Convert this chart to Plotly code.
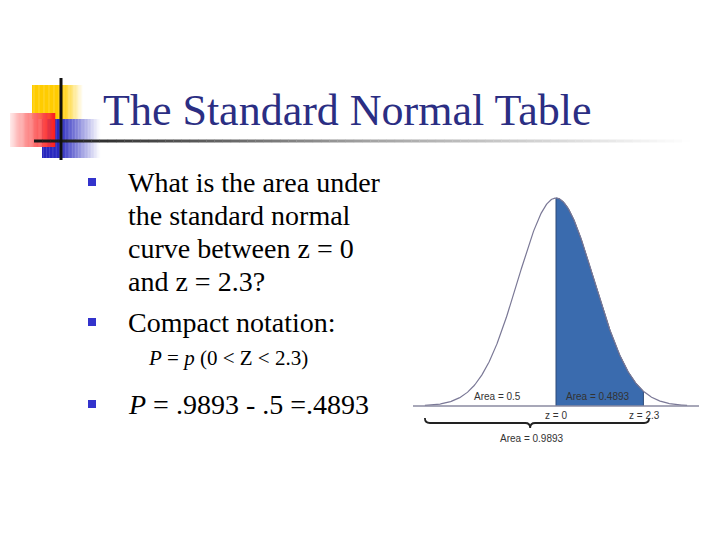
import numpy as np
import plotly.graph_objects as go

# ---------------- data ----------------
title_text = "The Standard Normal Table"
bullet_lines = [
    ["What is the area under", "the standard normal", "curve between z = 0", "and z = 2.3?"],
    ["Compact notation:"],
]
formula_text = "<i>P</i> = <i>p</i> (0 &lt; Z &lt; 2.3)"
answer_text = "<i>P</i> = .9893 - .5 =.4893"

z_low, z_high = 0.0, 2.3
area_left_label = "Area = 0.5"
area_shaded_label = "Area = 0.4893"
area_total_label = "Area = 0.9893"
z_labels = ["z = 0", "z = 2.3"]
curve_extent = 3.45

# ---------------- geometry helpers ----------------
W, H = 720, 540
Z0_PX, SD_PX, BASE_PX = 556, 38.0, 406
PEAK = 1 / np.sqrt(2 * np.pi)
K = (BASE_PX - 198) / PEAK  # px per pdf unit

def px(x):
    return x / W

def py(y):
    return 1 - y / H

def dy(pix):
    return pix / K

shapes = []

def hgrad(x0, x1, y0, y1, colors, n=40):
    for i in range(n):
        a = x0 + (x1 - x0) * i / n
        b = x0 + (x1 - x0) * (i + 1) / n + 0.3
        r, g, bl = colors((i + 0.5) / n)
        shapes.append(dict(type="rect", xref="paper", yref="paper",
                           x0=px(a), x1=px(b), y0=py(y1), y1=py(y0),
                           line=dict(width=0), fillcolor=f"rgb({r:.0f},{g:.0f},{bl:.0f})",
                           layer="below"))

def mix(c1, c2, t):
    return tuple(c1[k] + (c2[k] - c1[k]) * t for k in range(3))

WHITE = (255, 255, 255)
YEL = (255, 204, 0)
hgrad(32, 82, 85, 119, lambda t: YEL if t < 0.6 else mix(YEL, WHITE, (t - 0.6) / 0.4 * 0.95))
BLU = (40, 40, 190)
hgrad(42, 100, 119, 158, lambda t: BLU if t < 0.3 else mix(BLU, WHITE, min(1, (t - 0.3) / 0.7)))
hgrad(10, 55, 113, 147, lambda t: mix((255, 238, 238), (250, 30, 30), t ** 0.8))
hgrad(34, 690, 139.5, 142.5,
      lambda t: mix((20, 20, 20), (160, 160, 160), t / 0.5) if t < 0.5 else mix((160, 160, 160), WHITE, (t - 0.5) / 0.5),
      n=80)
shapes.append(dict(type="line", xref="paper", yref="paper", x0=px(61), x1=px(61),
                   y0=py(78), y1=py(160), line=dict(color="#101010", width=3)))

annotations = []
annotations.append(dict(text=title_text, x=px(101), y=py(111), xref="paper", yref="paper",
                        xanchor="left", yanchor="middle", showarrow=False,
                        font=dict(family="Liberation Serif", size=44, color="#2B2E83")))

body_font = dict(family="Liberation Serif", size=28, color="#000000")
line_gap = 33
bullet_y = [182, 322]
for lines, y0 in zip(bullet_lines, bullet_y):
    shapes.append(dict(type="rect", xref="paper", yref="paper", x0=px(88), x1=px(96),
                       y0=py(y0 + 4), y1=py(y0 - 4), fillcolor="#3333CC", line=dict(width=0)))
    for i, ln in enumerate(lines):
        annotations.append(dict(text=ln, x=px(126), y=py(y0 + i * line_gap), xref="paper", yref="paper",
                                xanchor="left", yanchor="middle", showarrow=False, font=body_font))

annotations.append(dict(text=formula_text, x=px(146), y=py(358), xref="paper", yref="paper",
                        xanchor="left", yanchor="middle", showarrow=False,
                        font=dict(family="Liberation Serif", size=21, color="#000000")))
shapes.append(dict(type="rect", xref="paper", yref="paper", x0=px(88), x1=px(96),
                   y0=py(408), y1=py(400), fillcolor="#3333CC", line=dict(width=0)))
annotations.append(dict(text=answer_text, x=px(126), y=py(404), xref="paper", yref="paper",
                        xanchor="left", yanchor="middle", showarrow=False, font=body_font))

# ---------------- chart ----------------
fig = go.Figure()
zs = np.linspace(-curve_extent, curve_extent, 400)
pdf = np.exp(-zs ** 2 / 2) / np.sqrt(2 * np.pi)
zf = np.linspace(z_low, z_high, 200)
pf = np.exp(-zf ** 2 / 2) / np.sqrt(2 * np.pi)

fig.add_trace(go.Scatter(x=np.concatenate([[z_low], zf, [z_high]]),
                         y=np.concatenate([[0], pf, [0]]),
                         fill="toself", fillcolor="#3A6BAE", mode="lines",
                         line=dict(color="#2C4A78", width=1), hoverinfo="skip"))
fig.add_trace(go.Scatter(x=zs, y=pdf, mode="lines", line=dict(color="#7A7896", width=1.2),
                         hoverinfo="skip"))
xl = (413 - Z0_PX) / SD_PX
xr = (699 - Z0_PX) / SD_PX
fig.add_trace(go.Scatter(x=[xl, xr], y=[0, 0], mode="lines", line=dict(color="#8A8AA0", width=1.5),
                         hoverinfo="skip"))

bl, br, bt = -3.45, 2.45, -0.68
ytop, ymid, ytip = -dy(12), -dy(17), -dy(22)
r = 0.13
path = (f"M {bl},{ytop} Q {bl},{ymid} {bl + r},{ymid} L {bt - r},{ymid} "
        f"Q {bt},{ymid} {bt},{ytip} Q {bt},{ymid} {bt + r},{ymid} L {br - r},{ymid} "
        f"Q {br},{ymid} {br},{ytop}")
shapes.append(dict(type="path", xref="x", yref="y", path=path, line=dict(color="#222222", width=1.8)))

small = dict(family="Liberation Sans", size=10, color="#333333")
annotations += [
    dict(text=area_left_label, x=-1.55, y=dy(10), xref="x", yref="y", showarrow=False, font=small),
    dict(text=area_shaded_label, x=1.11, y=dy(10), xref="x", yref="y", showarrow=False, font=small),
    dict(text=z_labels[0], x=z_low, y=-dy(9), xref="x", yref="y", showarrow=False, font=small),
    dict(text=z_labels[1], x=z_high + 0.02, y=-dy(9), xref="x", yref="y", showarrow=False, font=small),
    dict(text=area_total_label, x=-0.63, y=-dy(32), xref="x", yref="y", showarrow=False, font=small),
]

fig.update_layout(
    width=W, height=H, autosize=False,
    margin=dict(l=0, r=0, t=0, b=0),
    paper_bgcolor="white", plot_bgcolor="white",
    showlegend=False,
    xaxis=dict(range=[-Z0_PX / SD_PX, (W - Z0_PX) / SD_PX], domain=[0, 1], visible=False, fixedrange=True),
    yaxis=dict(range=[-(H - BASE_PX) / K, BASE_PX / K], domain=[0, 1], visible=False, fixedrange=True),
    shapes=shapes, annotations=annotations,
)
fig.write_html("out.html", config={"displayModeBar": False},
               post_script="document.body.style.margin='0';document.body.style.padding='0';")
